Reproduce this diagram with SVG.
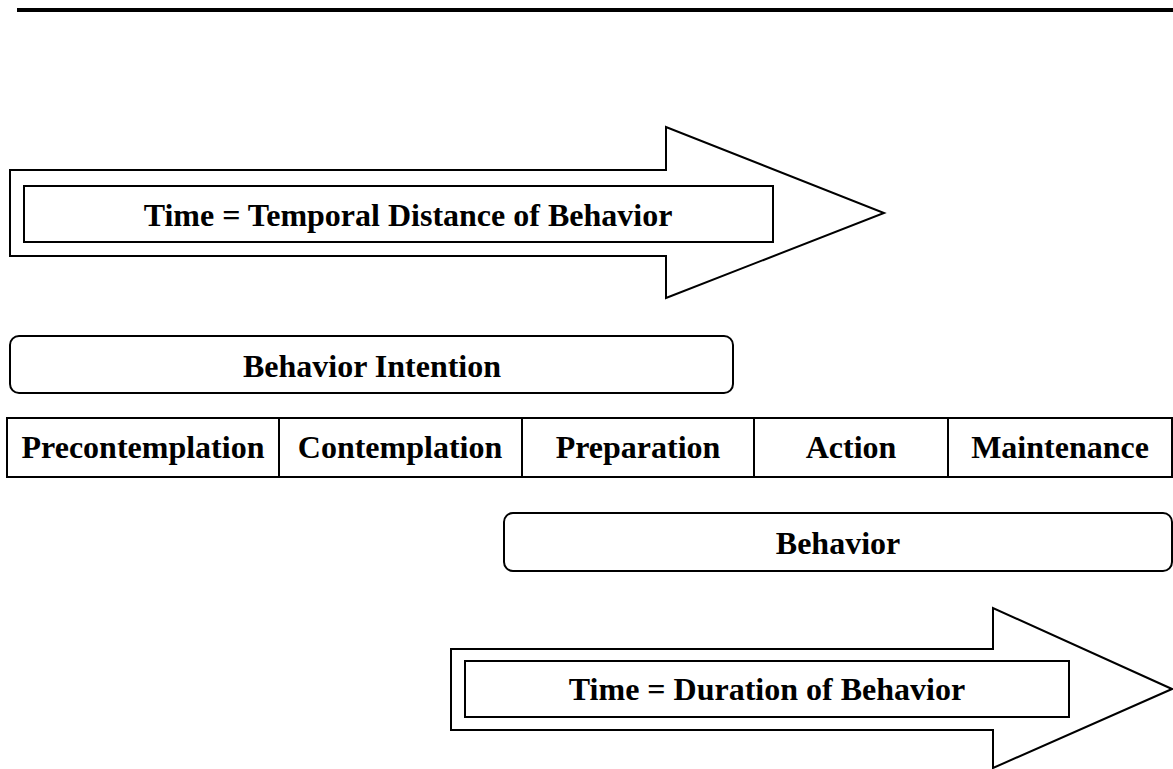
<svg xmlns="http://www.w3.org/2000/svg" width="1173" height="769" viewBox="0 0 1173 769">
<style>
.s{fill:#fff;stroke:#000;stroke-width:2}
.t{font-family:"Liberation Serif","Times New Roman",serif;font-weight:bold;font-size:32px;fill:#000;text-anchor:middle}
</style>
<rect x="0" y="0" width="1173" height="769" fill="#fff"/>
<rect x="17" y="8" width="1156" height="4" fill="#000"/>
<g id="arrow-temporal">
<polygon class="s" points="10,170 666,170 666,127 884,213 666,298 666,256 10,256"/>
<rect class="s" x="24" y="186" width="749" height="56"/>
<text class="t" x="408" y="226">Time = Temporal Distance of Behavior</text>
</g>
<g id="behavior-intention">
<rect class="s" x="10" y="336" width="723" height="57" rx="9"/>
<text class="t" x="372" y="377">Behavior Intention</text>
</g>
<g id="stages">
<rect class="s" x="7" y="418" width="1165" height="59"/>
<line class="s" x1="279" y1="418" x2="279" y2="477"/>
<line class="s" x1="522" y1="418" x2="522" y2="477"/>
<line class="s" x1="754" y1="418" x2="754" y2="477"/>
<line class="s" x1="948" y1="418" x2="948" y2="477"/>
<text class="t" x="143" y="458">Precontemplation</text>
<text class="t" x="400" y="458">Contemplation</text>
<text class="t" x="638" y="458">Preparation</text>
<text class="t" x="851" y="458">Action</text>
<text class="t" x="1060" y="458">Maintenance</text>
</g>
<g id="behavior">
<rect class="s" x="504" y="513" width="668" height="58" rx="9"/>
<text class="t" x="838" y="554">Behavior</text>
</g>
<g id="arrow-duration">
<polygon class="s" points="451,649 993,649 993,608 1172,689 993,768 993,730 451,730"/>
<rect class="s" x="465" y="661" width="604" height="56"/>
<text class="t" x="767" y="700">Time = Duration of Behavior</text>
</g>
<g id="connectors"/>
</svg>
